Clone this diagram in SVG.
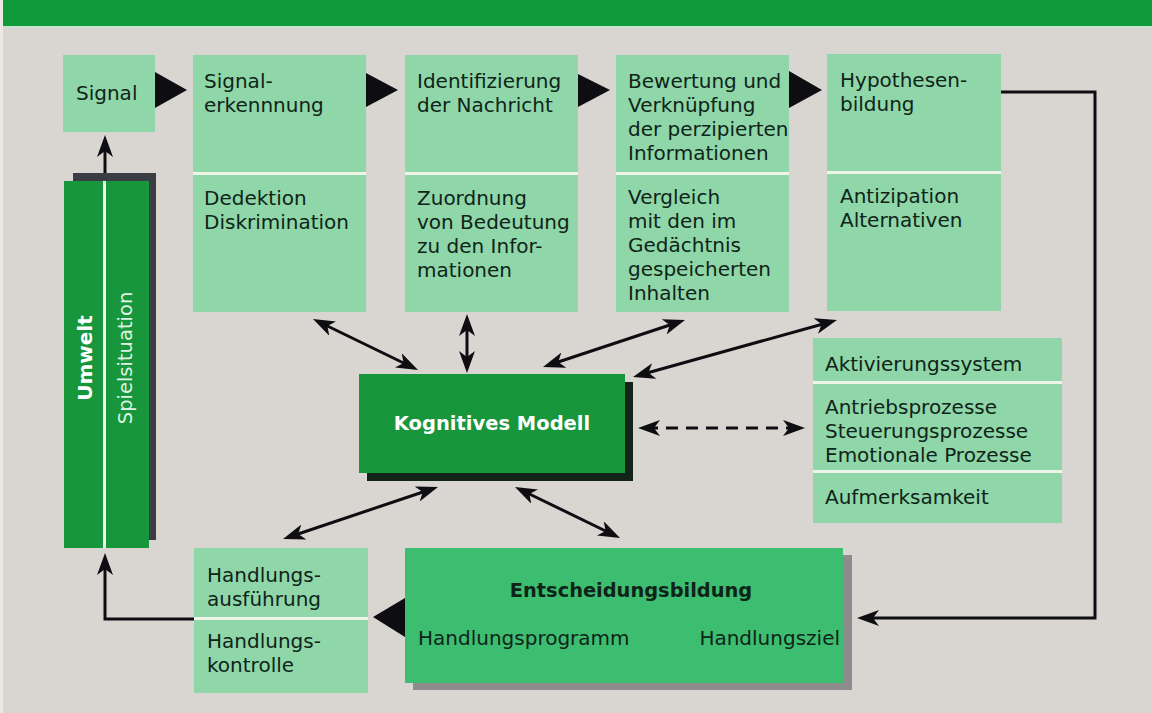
<svg xmlns="http://www.w3.org/2000/svg" width="1152" height="713" viewBox="0 0 1152 713">
<style>
.bg{fill:#d9d6d2}
.lt{fill:#8fd6a9}
.dv{fill:#eef5e8}
.dk{fill:#17963b}
.md{fill:#3dbd70}
.t{font-family:"DejaVu Sans","Open Sans","Liberation Sans",sans-serif;font-size:20px;fill:#0f2418}
.b{font-family:"DejaVu Sans","Open Sans","Liberation Sans",sans-serif;font-size:20px;font-weight:bold}
.w{fill:#ffffff}
.ln{fill:none;stroke:#0d0d12;stroke-width:3}
.tri{fill:#0d0d12}
</style>
<defs>
<marker id="ah" viewBox="0 0 22 16" refX="14" refY="8" markerWidth="22" markerHeight="16" markerUnits="userSpaceOnUse" orient="auto-start-reverse">
<path d="M0,0 L22,8 L0,16 L6,8 z" fill="#0d0d12"/>
</marker>
</defs>
<rect class="bg" x="0" y="0" width="1152" height="713"/>
<rect x="0" y="0" width="3" height="713" fill="#ece9e5"/>
<rect x="3" y="0" width="1149" height="26" fill="#0f9b39"/>
<rect x="3" y="26" width="1149" height="2" fill="#c9e4d2"/>

<g id="signal">
<rect class="lt" x="63" y="55" width="92" height="77"/>
<text class="t" x="76" y="100">Signal</text>
</g>

<g id="signalerkennung">
<rect class="lt" x="193" y="55" width="173" height="257"/>
<rect class="dv" x="193" y="172" width="173" height="3"/>
<text class="t" x="204" y="88">Signal-</text>
<text class="t" x="204" y="112">erkennnung</text>
<text class="t" x="204" y="205">Dedektion</text>
<text class="t" x="204" y="229">Diskrimination</text>
</g>

<g id="identifizierung">
<rect class="lt" x="405" y="55" width="173" height="257"/>
<rect class="dv" x="405" y="172" width="173" height="3"/>
<text class="t" x="417" y="88">Identifizierung</text>
<text class="t" x="417" y="112">der Nachricht</text>
<text class="t" x="417" y="205">Zuordnung</text>
<text class="t" x="417" y="229">von Bedeutung</text>
<text class="t" x="417" y="253">zu den Infor-</text>
<text class="t" x="417" y="277">mationen</text>
</g>

<g id="bewertung">
<rect class="lt" x="616" y="55" width="173" height="257"/>
<rect class="dv" x="616" y="172" width="173" height="3"/>
<text class="t" x="628" y="88">Bewertung und</text>
<text class="t" x="628" y="112">Verknüpfung</text>
<text class="t" x="628" y="136">der perzipierten</text>
<text class="t" x="628" y="160">Informationen</text>
<text class="t" x="628" y="204">Vergleich</text>
<text class="t" x="628" y="228">mit den im</text>
<text class="t" x="628" y="252">Gedächtnis</text>
<text class="t" x="628" y="276">gespeicherten</text>
<text class="t" x="628" y="300">Inhalten</text>
</g>

<g id="hypothesenbildung">
<rect class="lt" x="827" y="54" width="174" height="257"/>
<rect class="dv" x="827" y="171" width="174" height="3"/>
<text class="t" x="840" y="87">Hypothesen-</text>
<text class="t" x="840" y="111">bildung</text>
<text class="t" x="840" y="203">Antizipation</text>
<text class="t" x="840" y="227">Alternativen</text>
</g>

<g id="umwelt">
<rect x="73" y="173" width="83" height="367" fill="#3a3d44"/>
<rect class="dk" x="64" y="181" width="85" height="367"/>
<rect class="dv" x="103" y="181" width="3" height="367"/>
<text class="b w" transform="translate(92,358) rotate(-90)" text-anchor="middle">Umwelt</text>
<text class="t" transform="translate(132,358) rotate(-90)" text-anchor="middle" style="fill:#dff3e2;font-size:19.5px">Spielsituation</text>
</g>

<g id="kognitives-modell">
<rect x="367" y="382" width="266" height="99" fill="#14231a"/>
<rect class="dk" x="359" y="374" width="266" height="99"/>
<text class="b w" x="492" y="430" text-anchor="middle" style="font-size:19.5px">Kognitives Modell</text>
</g>

<g id="aktivierungssystem">
<rect class="lt" x="813" y="338" width="249" height="185"/>
<rect class="dv" x="813" y="381" width="249" height="3"/>
<rect class="dv" x="813" y="470" width="249" height="3"/>
<text class="t" x="825" y="371">Aktivierungssystem</text>
<text class="t" x="825" y="414">Antriebsprozesse</text>
<text class="t" x="825" y="438">Steuerungsprozesse</text>
<text class="t" x="825" y="462">Emotionale Prozesse</text>
<text class="t" x="825" y="504">Aufmerksamkeit</text>
</g>

<g id="handlung">
<rect class="lt" x="194" y="548" width="174" height="145"/>
<rect class="dv" x="194" y="617" width="174" height="3"/>
<text class="t" x="207" y="582">Handlungs-</text>
<text class="t" x="207" y="606">ausführung</text>
<text class="t" x="207" y="648">Handlungs-</text>
<text class="t" x="207" y="672">kontrolle</text>
</g>

<g id="entscheidungsbildung">
<rect x="413" y="555" width="439" height="135" fill="#8c8c8c"/>
<rect class="md" x="405" y="548" width="438" height="135"/>
<text class="b" x="631" y="597" text-anchor="middle" style="font-size:19.4px" fill="#0f2418">Entscheidungsbildung</text>
<text class="t" x="418" y="645">Handlungsprogramm</text>
<text class="t" x="840" y="645" text-anchor="end">Handlungsziel</text>
</g>

<g id="connectors">
<polygon class="tri" points="155,72 187,90 155,108"/>
<polygon class="tri" points="366,73 398,90 366,107"/>
<polygon class="tri" points="578,74 610,90 578,107"/>
<polygon class="tri" points="789,71 822,90 789,108"/>
<polygon class="tri" points="405,598 373,617 405,637"/>
<path class="ln" d="M105,173 V143" marker-end="url(#ah)"/>
<path class="ln" d="M194,619 H105 V561" marker-end="url(#ah)"/>
<path class="ln" d="M1001,92 H1095 V618 H865" marker-end="url(#ah)"/>
<path class="ln" d="M320.2,322.5 L410.8,366.5" marker-start="url(#ah)" marker-end="url(#ah)"/>
<path class="ln" d="M467,322 L467,365" marker-start="url(#ah)" marker-end="url(#ah)"/>
<path class="ln" d="M550.6,364.5 L677.4,322.5" marker-start="url(#ah)" marker-end="url(#ah)"/>
<path class="ln" d="M640.7,374.8 L829.3,322.2" marker-start="url(#ah)" marker-end="url(#ah)"/>
<path class="ln" d="M290.6,536.5 L430.4,489.5" marker-start="url(#ah)" marker-end="url(#ah)"/>
<path class="ln" d="M522.2,490.5 L612.8,534.5" marker-start="url(#ah)" marker-end="url(#ah)"/>
<path class="ln" d="M646,428 L797,428" stroke-dasharray="12 8" marker-start="url(#ah)" marker-end="url(#ah)"/>
</g>
</svg>
